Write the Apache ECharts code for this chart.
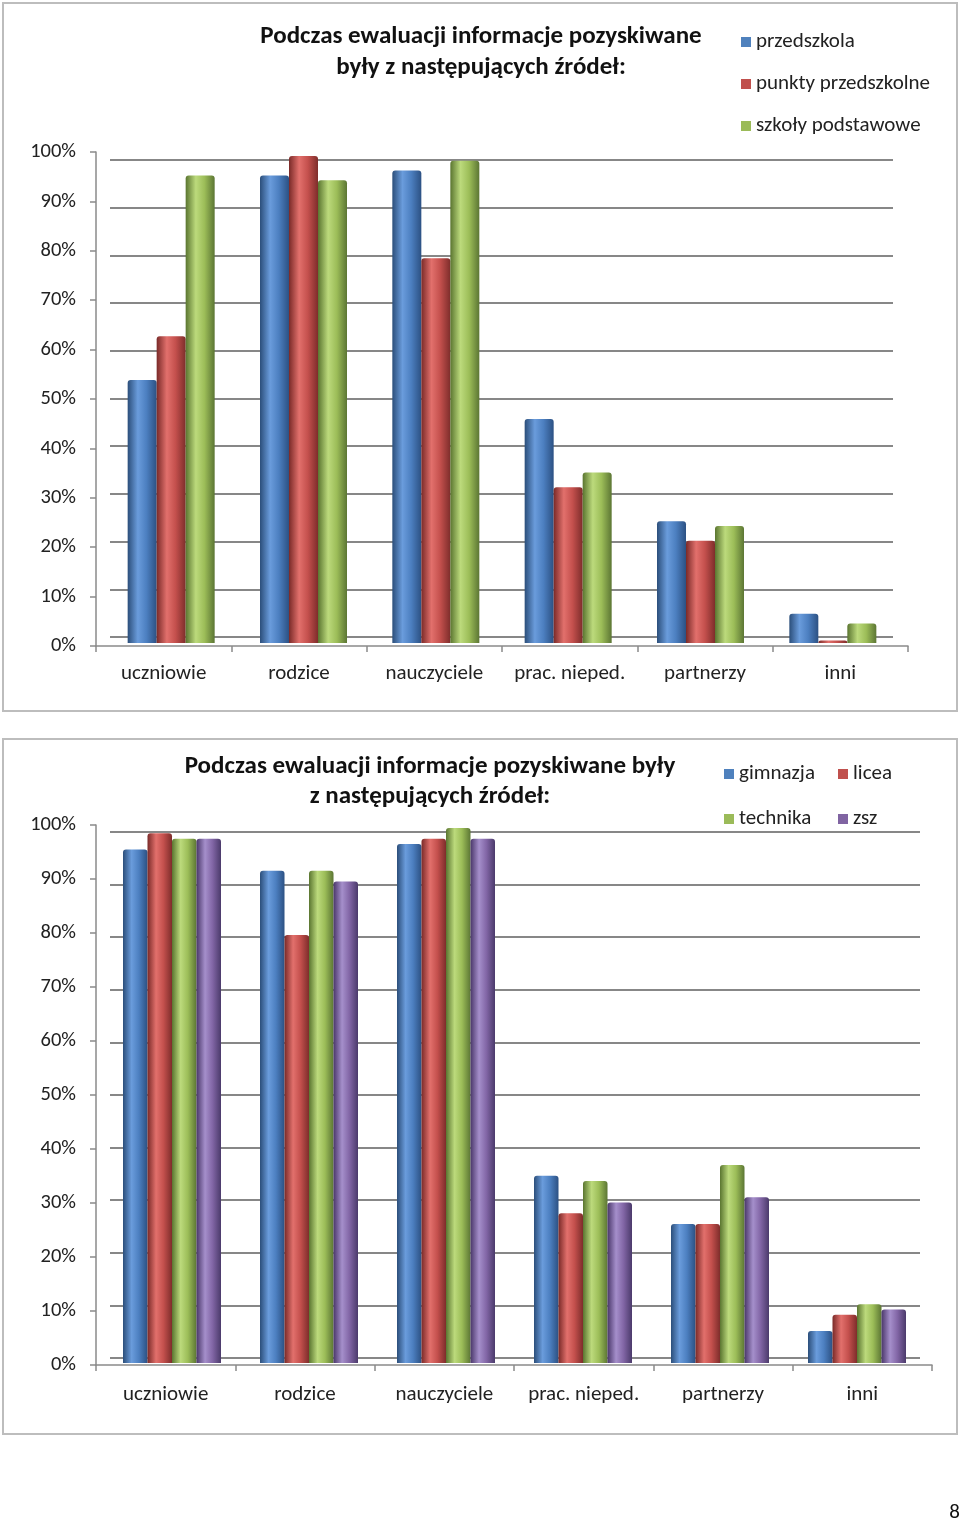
<!DOCTYPE html>
<html>
<head>
<meta charset="utf-8">
<script src="https://cdn.jsdelivr.net/npm/echarts@6/dist/echarts.min.js"></script>
<style>
html,body{margin:0;padding:0;background:#fff;}
#c{width:960px;height:1523px;}
</style>
</head>
<body>
<div id="c"></div>
<script>
// ---- data ----
const categories = ['uczniowie', 'rodzice', 'nauczyciele', 'prac. nieped.', 'partnerzy', 'inni'];
const title1 = 'Podczas ewaluacji informacje pozyskiwane\nbyły z następujących źródeł:';
const title2 = 'Podczas ewaluacji informacje pozyskiwane były\nz następujących źródeł:';
const names1 = ['przedszkola', 'punkty przedszkolne', 'szkoły podstawowe'];
const przedszkola = [54, 96, 97, 46, 25, 6];
const punktyPrzedszkolne = [63, 100, 79, 32, 21, 0.5];
const szkolyPodstawowe = [96, 95, 99, 35, 24, 4];
const names2 = ['gimnazja', 'licea', 'technika', 'zsz'];
const gimnazja = [96, 92, 97, 35, 26, 6];
const licea = [99, 80, 98, 28, 26, 9];
const technika = [98, 92, 100, 34, 37, 11];
const zsz = [98, 90, 98, 30, 31, 10];
const yMin = 0, yMax = 100, yStep = 10;
const pageNumber = '8';

// ---- styling ----
const FONT = 'Carlito, Lato, "Open Sans", sans-serif';
const grey = '#8a8a8a';
function grad(c0, c1, c2, c3) {
  return {type: 'linear', x: 0, y: 0, x2: 1, y2: 0,
    colorStops: [{offset: 0, color: c0}, {offset: 0.35, color: c1}, {offset: 0.65, color: c2}, {offset: 1, color: c3}]};
}
const palette = {
  blue:   {solid: '#4F81BD', g: grad('#2B4E7A', '#6A9CDC', '#4C7FC0', '#2C5183')},
  red:    {solid: '#C0504D', g: grad('#7A2A28', '#E2706C', '#C4504D', '#7E2D2B')},
  green:  {solid: '#9BBB59', g: grad('#5A7530', '#BCDA7C', '#9CBD58', '#5C7634')},
  purple: {solid: '#8064A2', g: grad('#4A376A', '#A58FCB', '#8266A6', '#4B3A6B')}
};

const grids = [
  // chart 1
  {left: 96, width: 812, top: 152, height: 494},   // 0 labels/axes
  {left: 110, width: 783, top: 160, height: 477},  // 1 back wall gridlines
  {left: 105, width: 794, top: 156, height: 487},  // 2 bars
  // chart 2
  {left: 96, width: 836, top: 825, height: 540},   // 3 labels/axes
  {left: 110, width: 810, top: 832, height: 526},  // 4 back wall gridlines
  {left: 103.5, width: 822, top: 828, height: 535} // 5 bars
];

function xLab(gi, margin) {
  return {type: 'category', gridIndex: gi, data: categories,
    axisLine: {show: true, lineStyle: {color: grey, width: 1.5}},
    axisTick: {show: true, interval: 0, length: 6, lineStyle: {color: grey, width: 1.5}},
    axisLabel: {interval: 0, hideOverlap: false, color: '#222', fontFamily: FONT, fontSize: 21, margin: margin},
    splitLine: {show: false}};
}
function xHidden(gi) {
  return {type: 'category', gridIndex: gi, data: categories, show: false};
}
function yLab(gi) {
  return {type: 'value', gridIndex: gi, min: yMin, max: yMax, interval: yStep,
    axisLine: {show: true, lineStyle: {color: grey, width: 1.5}},
    axisTick: {show: true, length: 6, lineStyle: {color: grey, width: 1.5}},
    axisLabel: {color: '#222', fontFamily: FONT, fontSize: 20.5, margin: 20, formatter: '{value}%'},
    splitLine: {show: false}};
}
function yWall(gi) {
  return {type: 'value', gridIndex: gi, min: yMin, max: yMax, interval: yStep,
    axisLine: {show: false}, axisTick: {show: false}, axisLabel: {show: false},
    splitLine: {show: true, lineStyle: {color: '#878787', width: 2.2}}};
}
function yBars(gi) {
  return {type: 'value', gridIndex: gi, min: yMin, max: yMax, interval: yStep, show: false,
    splitLine: {show: false}};
}

function bar(name, data, pal, gi, w, catGap) {
  return {type: 'bar', name, data, xAxisIndex: gi, yAxisIndex: gi,
    barWidth: w, barGap: '0%', barCategoryGap: catGap,
    itemStyle: {color: pal.g, borderRadius: [3, 3, 0, 0]},
    emphasis: {disabled: true}};
}

const legendText = {color: '#222', fontFamily: FONT, fontSize: 21, lineHeight: 22};
function legendData(names, pals) {
  return names.map((n, i) => ({name: n, icon: 'rect', itemStyle: {color: pals[i].solid, borderWidth: 0}}));
}

const option = {
  animation: false,
  backgroundColor: '#fff',
  grid: grids,
  xAxis: [xLab(0, 17), xHidden(1), xHidden(2), xLab(3, 19), xHidden(4), xHidden(5)],
  yAxis: [yLab(0), yWall(1), yBars(2), yLab(3), yWall(4), yBars(5)],
  legend: [
    {data: legendData(names1, [palette.blue, palette.red, palette.green]), orient: 'vertical', left: 741, top: 31,
      padding: 0, itemWidth: 10, itemHeight: 10, itemGap: 20, textStyle: legendText, selectedMode: false},
    {data: legendData([names2[0], names2[2]], [palette.blue, palette.green]), orient: 'vertical', left: 724, top: 763,
      padding: 0, itemWidth: 10, itemHeight: 10, itemGap: 23, textStyle: legendText, selectedMode: false},
    {data: legendData([names2[1], names2[3]], [palette.red, palette.purple]), orient: 'vertical', left: 838, top: 763,
      padding: 0, itemWidth: 10, itemHeight: 10, itemGap: 23, textStyle: legendText, selectedMode: false}
  ],
  series: [
    bar(names1[0], przedszkola, palette.blue, 2, 29, '33.5%'),
    bar(names1[1], punktyPrzedszkolne, palette.red, 2, 29, '33.5%'),
    bar(names1[2], szkolyPodstawowe, palette.green, 2, 29, '33.5%'),
    bar(names2[0], gimnazja, palette.blue, 5, 24.5, '28.5%'),
    bar(names2[1], licea, palette.red, 5, 24.5, '28.5%'),
    bar(names2[2], technika, palette.green, 5, 24.5, '28.5%'),
    bar(names2[3], zsz, palette.purple, 5, 24.5, '28.5%')
  ],
  graphic: [
    {type: 'rect', shape: {x: 3, y: 3, width: 954, height: 708}, style: {fill: 'none', stroke: '#BDBDBD', lineWidth: 2}, silent: true},
    {type: 'rect', shape: {x: 3, y: 739, width: 954, height: 695}, style: {fill: 'none', stroke: '#BDBDBD', lineWidth: 2}, silent: true},
    {type: 'text', x: 481, y: 52, style: {text: title1, fill: '#111', font: 'bold 25px ' + FONT, lineHeight: 31, align: 'center', verticalAlign: 'middle'}, silent: true},
    {type: 'text', x: 430, y: 782, style: {text: title2, fill: '#111', font: 'bold 25px ' + FONT, lineHeight: 30, align: 'center', verticalAlign: 'middle'}, silent: true},
    {type: 'text', x: 960, y: 1513, style: {text: pageNumber, fill: '#111', font: '21px ' + FONT, align: 'right', verticalAlign: 'middle'}, silent: true}
  ]
};

const chart = echarts.init(document.getElementById('c'), null, {renderer: 'canvas'});
chart.setOption(option);
</script>
</body>
</html>
